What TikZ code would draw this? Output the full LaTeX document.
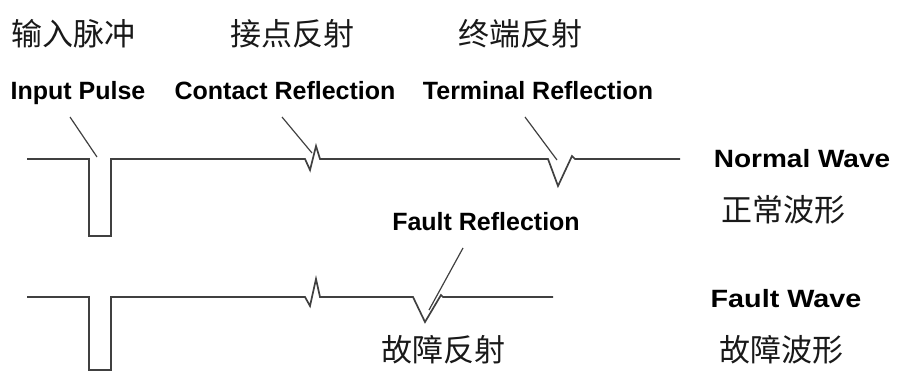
\documentclass[tikz,border=0pt]{standalone}
\usepackage{fontspec}
\setmainfont{Liberation Sans}
\newfontfamily\cjk{Noto Sans CJK SC}
\begin{document}
\begin{tikzpicture}[x=1pt,y=-1pt,
  wave/.style={draw=black!75,line width=1.7pt,line join=miter},
  ptr/.style={draw=black!75,line width=1.2pt},
  en/.style={font=\fontsize{25}{25}\selectfont\bfseries,inner sep=0pt,anchor=base},
  zh/.style={font=\cjk\fontsize{31}{31}\selectfont,inner sep=0pt,text=black!90}]
\useasboundingbox (0,0) rectangle (899,372);
% Chinese labels
\node[zh] (zin) at (73,34) {输入脉冲};
\node[zh] (zct) at (292,34) {接点反射};
\node[zh] (ztm) at (520,34) {终端反射};
\node[zh] (znw) at (783,210) {正常波形};
\node[zh] (zfr) at (443,350) {故障反射};
\node[zh] (zfw) at (781,350) {故障波形};
% English labels
\node[en] (ein) at (78,99) {Input Pulse};
\node[en] (ect) at (285,99) {Contact Reflection};
\node[en] (etm) at (538,99) {Terminal Reflection};
\node[en] (enw) at (802,167) {\scalebox{1.12}[1]{Normal Wave}};
\node[en] (efr) at (486,230) {Fault Reflection};
\node[en] (efw) at (786,307) {\scalebox{1.15}[1]{Fault Wave}};
% normal wave
\draw[wave] (27,159) -- (89,159) -- (89,236) -- (111,236) -- (111,159)
  -- (305,159) -- (310,170) -- (316,146) -- (320,159)
  -- (548,159) -- (558,186) -- (572,156) -- (575,159) -- (680,159);
% fault wave
\draw[wave] (27,297) -- (89,297) -- (89,370) -- (111,370) -- (111,297)
  -- (305,297) -- (310,306) -- (316,279) -- (320,297)
  -- (413,297) -- (425,322) -- (441,295) -- (443,297) -- (553,297);
% pointers
\coordinate (pin1) at (70,117);  \coordinate (pin2) at (97,157);
\coordinate (pct1) at (282,117); \coordinate (pct2) at (312,153);
\coordinate (ptm1) at (525,117); \coordinate (ptm2) at (557,160);
\coordinate (pfr1) at (463,248); \coordinate (pfr2) at (429,310);
\draw[ptr] (pin1) -- (pin2);
\draw[ptr] (pct1) -- (pct2);
\draw[ptr] (ptm1) -- (ptm2);
\draw[ptr] (pfr1) -- (pfr2);
\end{tikzpicture}
\end{document}
